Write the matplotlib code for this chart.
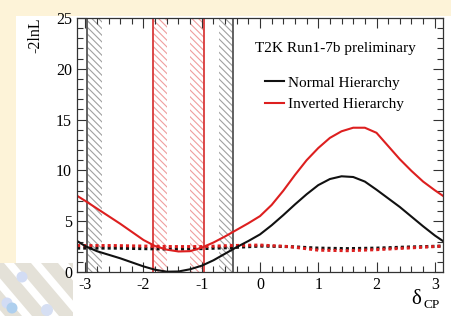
import matplotlib
matplotlib.use('Agg')
import matplotlib.pyplot as plt
import numpy as np
from matplotlib.patches import Polygon, Circle, Rectangle
from matplotlib.lines import Line2D
from matplotlib.ticker import MultipleLocator

plt.rcParams['font.family'] = ['Liberation Serif', 'DejaVu Serif']
plt.rcParams['axes.unicode_minus'] = False
plt.rcParams['hatch.linewidth'] = 0.8

# delta_CP grid and -2lnL values
dcp = [-3.14, -3.0, -2.8, -2.6, -2.4, -2.2, -2.0, -1.8, -1.6, -1.4, -1.2, -1.0,
       -0.8, -0.6, -0.4, -0.2, 0.0, 0.2, 0.4, 0.6, 0.8, 1.0, 1.2, 1.4, 1.6,
       1.8, 2.0, 2.2, 2.4, 2.6, 2.8, 3.0, 3.14]
nh = [3.05, 2.55, 2.05, 1.7, 1.35, 0.95, 0.55, 0.22, 0.03, 0.05, 0.27, 0.62,
      1.15, 1.8, 2.45, 3.05, 3.7, 4.6, 5.6, 6.65, 7.65, 8.55, 9.15, 9.42, 9.35,
      8.9, 8.1, 7.25, 6.4, 5.45, 4.5, 3.6, 3.05]
ih = [7.5, 7.0, 6.25, 5.5, 4.75, 3.95, 3.15, 2.55, 2.2, 2.02, 2.05, 2.4,
      2.9, 3.5, 4.15, 4.8, 5.5, 6.6, 8.0, 9.55, 11.0, 12.2, 13.2, 13.85, 14.2,
      14.2, 13.7, 12.4, 11.1, 9.95, 8.9, 8.05, 7.5]

# critical values (dotted)
dcp_c = [-3.14, -2.5, -2.0, -1.5, -1.0, -0.5, 0.0, 0.5, 1.0, 1.5, 2.0, 2.5, 3.14]
nh_crit = [2.35, 2.35, 2.3, 2.25, 2.3, 2.4, 2.55, 2.5, 2.35, 2.3, 2.35, 2.45, 2.55]
ih_crit = [2.6, 2.6, 2.55, 2.5, 2.5, 2.6, 2.65, 2.5, 2.15, 2.1, 2.2, 2.35, 2.55]

# 90% CL interval edges
nh_lo, nh_hi = -2.97, -0.46
ih_lo, ih_hi = -1.84, -0.96
band_w = 0.25

black = '#111111'
red = '#dd1f1f'

fig = plt.figure(figsize=(4.52, 3.16), dpi=100)
fig.patch.set_facecolor('white')
# cream frame top / left
fig.add_artist(Rectangle((0, 1 - 16 / 316), 1, 16 / 316, transform=fig.transFigure,
                         facecolor='#fdf3d8', edgecolor='none', zorder=-5))
fig.add_artist(Rectangle((0, 53 / 316), 16 / 452, 1, transform=fig.transFigure,
                         facecolor='#fdf3d8', edgecolor='none', zorder=-5))

# decoration bottom-left
deco = fig.add_axes([0, 0, 73 / 452, 53 / 316])
deco.set_xlim(0, 73)
deco.set_ylim(53, 0)
deco.axis('off')
for x0 in [-40, -13, 14, 41, 68]:
    deco.add_patch(Polygon([(x0, 0), (x0 + 17, 0), (x0 + 62, 53), (x0 + 45, 53)],
                           facecolor='#e4e1d8', edgecolor='none'))
for cx, cy, r, c in [(22, 14, 5.5, '#d2dcf4'), (7, 40, 5.5, '#d2dcf4'),
                     (12, 45, 5.5, '#aecfee'), (47, 47, 6, '#d6dff3')]:
    deco.add_patch(Circle((cx, cy), r, facecolor=c, edgecolor='none'))

ax = fig.add_axes([77 / 452, 1 - 272 / 316, 366 / 452, 254 / 316])
ax.set_xlim(-np.pi, np.pi)
ax.set_ylim(0, 25)

hatch = '\\\\\\\\\\'
ax.axvspan(nh_lo, nh_lo + band_w, facecolor='none', edgecolor='#a0a0a0', hatch=hatch, lw=0)
ax.axvspan(nh_hi - band_w, nh_hi, facecolor='none', edgecolor='#a0a0a0', hatch=hatch, lw=0)
ax.axvspan(ih_lo, ih_lo + band_w, facecolor='none', edgecolor='#ef9e9e', hatch=hatch, lw=0)
ax.axvspan(ih_hi - band_w, ih_hi, facecolor='none', edgecolor='#ef9e9e', hatch=hatch, lw=0)
for xv in [nh_lo, nh_hi]:
    ax.axvline(xv, color='#555555', lw=1.3)
for xv in [ih_lo, ih_hi]:
    ax.axvline(xv, color='#d93a3a', lw=1.3)

ax.plot(dcp_c, nh_crit, color=black, lw=2.2, ls=(0, (1, 1)))
ax.plot(dcp_c, ih_crit, color=red, lw=2.2, ls=(0, (1, 1)))
ax.plot(dcp, nh, color=black, lw=1.5)
ax.plot(dcp, ih, color=red, lw=1.5)

ax.xaxis.set_major_locator(MultipleLocator(1))
ax.xaxis.set_minor_locator(MultipleLocator(0.2))
ax.yaxis.set_major_locator(MultipleLocator(5))
ax.yaxis.set_minor_locator(MultipleLocator(1))
ax.tick_params(which='both', direction='in', top=True, right=True, labelsize=11.5,
               color='#333333', width=0.8)
ax.tick_params(which='major', length=7)
ax.tick_params(which='minor', length=4)
for sp in ax.spines.values():
    sp.set_linewidth(0.9)
    sp.set_color('#333333')

ax.text(0.705, 0.88, 'T2K Run1-7b preliminary', transform=ax.transAxes,
        ha='center', va='center', fontsize=11)
handles = [Line2D([], [], color=black, lw=1.5), Line2D([], [], color=red, lw=1.5)]
ax.legend(handles, ['Normal Hierarchy', 'Inverted Hierarchy'], loc='upper left',
          bbox_to_anchor=(0.515, 0.772), frameon=False, fontsize=11,
          handlelength=1.2, handletextpad=0.25, labelspacing=0.5, borderaxespad=0,
          borderpad=0)

fig.text(35 / 452, 1 - 17 / 316, '-2lnL', rotation=90, ha='center', va='top', fontsize=11.5)
fig.text(416 / 452, 1 - 300 / 316, 'δ', ha='center', va='center', fontsize=15)
fig.text(424 / 452, 1 - 305 / 316, 'CP', ha='left', va='center', fontsize=9.5)

fig.savefig('out.png', dpi=100)
